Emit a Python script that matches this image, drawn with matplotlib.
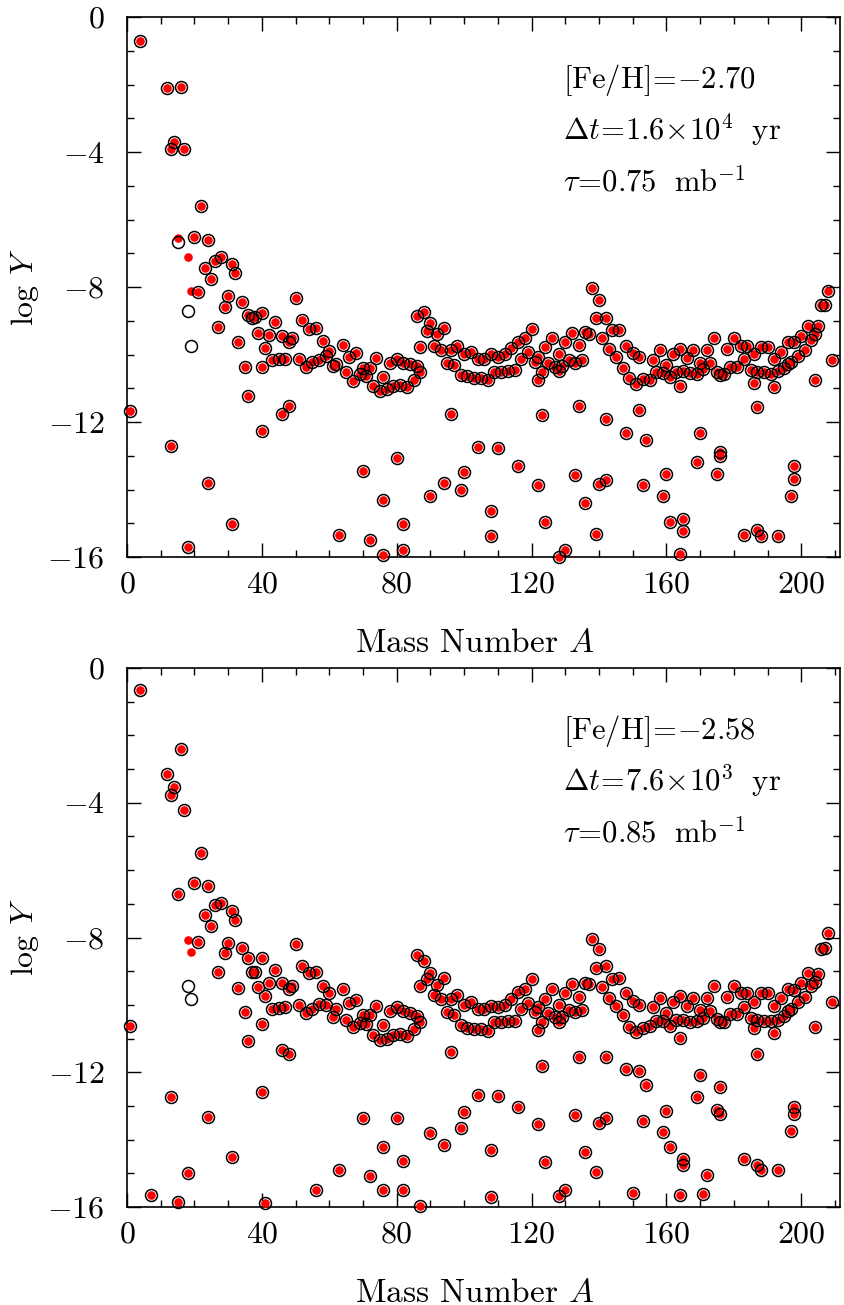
import matplotlib
matplotlib.use("Agg")
import matplotlib.pyplot as plt
from matplotlib.ticker import MultipleLocator, FixedLocator, FixedFormatter

plt.rcParams['mathtext.fontset'] = 'cm'
plt.rcParams['font.family'] = ['cmr10', 'DejaVu Serif']
plt.rcParams['axes.unicode_minus'] = False

# ---------------- upper panel: [Fe/H] = -2.70 ----------------
# isotopes where both calculations agree (open circle + red dot)
mass_top = [
    1, 4, 12, 13, 13, 14, 16, 17, 18, 20, 21, 22, 23, 24, 24, 25, 26, 27, 28, 29,
    30, 31, 31, 32, 33, 34, 35, 36, 36, 37, 38, 39, 40, 40, 40, 41, 42, 43, 44, 45,
    46, 46, 47, 48, 48, 49, 50, 51, 52, 53, 54, 55, 56, 57, 58, 59, 60, 61, 62, 63,
    64, 65, 66, 67, 68, 69, 70, 70, 71, 72, 72, 73, 74, 75, 76, 76, 76, 77, 78, 79,
    80, 80, 81, 82, 82, 82, 83, 84, 85, 86, 86, 87, 87, 88, 89, 90, 90, 91, 92, 93,
    94, 94, 95, 96, 96, 97, 98, 99, 99, 100, 100, 101, 102, 103, 104, 104, 105, 106, 107, 108,
    108, 108, 109, 110, 110, 111, 112, 113, 114, 115, 116, 116, 117, 118, 119, 120, 121, 122, 122, 122,
    123, 123, 124, 124, 125, 126, 127, 128, 128, 128, 129, 130, 130, 131, 132, 133, 133, 134, 134, 135,
    136, 136, 137, 138, 139, 139, 140, 140, 141, 142, 142, 142, 143, 144, 145, 146, 147, 148, 148, 149,
    150, 151, 152, 152, 153, 153, 154, 155, 156, 157, 158, 159, 159, 160, 160, 161, 161, 162, 163, 164,
    164, 164, 165, 165, 165, 166, 167, 168, 169, 169, 170, 170, 171, 172, 173, 174, 175, 175, 176, 176,
    176, 177, 178, 179, 180, 181, 182, 183, 183, 184, 185, 186, 186, 187, 187, 187, 188, 188, 189, 190,
    191, 192, 192, 193, 193, 194, 195, 196, 196, 197, 197, 198, 198, 198, 199, 200, 201, 202, 203, 204,
    204, 205, 206, 207, 208, 209,
]
logy_top = [
    -11.67, -0.71, -2.11, -3.90, -12.72, -3.71, -2.08, -3.90, -15.71, -6.51, -8.15, -5.60, -7.43, -6.62, -13.80, -7.77, -7.22, -9.19, -7.10, -8.58,
    -8.26, -7.32, -15.01, -7.59, -9.63, -8.45, -10.38, -8.83, -11.24, -8.92, -8.90, -9.35, -8.76, -10.38, -12.27, -9.80, -9.41, -10.16, -9.03, -10.14,
    -9.44, -11.77, -10.12, -9.63, -11.52, -9.52, -8.33, -10.14, -8.99, -10.38, -9.23, -10.22, -9.20, -10.16, -9.59, -10.04, -9.91, -10.34, -10.29, -15.34,
    -9.71, -10.51, -10.07, -10.78, -9.97, -10.58, -10.39, -13.46, -10.63, -10.39, -15.50, -10.93, -10.09, -11.08, -10.66, -14.30, -15.93, -11.03, -10.26, -10.93,
    -10.12, -13.08, -10.91, -10.24, -15.01, -15.78, -10.95, -10.29, -10.76, -8.87, -10.34, -9.79, -10.51, -8.75, -9.30, -9.07, -14.20, -9.74, -9.40, -9.87,
    -9.20, -13.82, -10.24, -9.87, -11.75, -10.32, -9.74, -10.61, -14.00, -9.99, -13.49, -10.65, -9.94, -10.71, -10.12, -12.74, -10.71, -10.12, -10.76, -9.99,
    -14.64, -15.37, -10.51, -10.06, -12.76, -10.51, -9.99, -10.49, -9.82, -10.46, -9.64, -13.31, -10.12, -9.52, -9.94, -9.23, -10.22, -10.07, -10.76, -13.87,
    -10.51, -11.80, -9.79, -14.97, -10.24, -9.50, -10.37, -9.99, -10.49, -16.00, -10.34, -9.62, -15.80, -10.16, -9.35, -10.24, -13.58, -9.72, -11.53, -10.16,
    -9.33, -14.40, -9.38, -8.04, -8.93, -15.32, -8.39, -13.85, -9.52, -8.92, -11.90, -13.73, -9.84, -9.28, -10.07, -9.27, -10.39, -9.74, -12.32, -10.71,
    -9.97, -10.88, -10.07, -11.65, -10.73, -13.87, -12.54, -10.76, -10.16, -10.51, -9.87, -10.55, -14.18, -10.30, -13.55, -10.66, -14.97, -9.99, -10.53, -9.84,
    -10.93, -15.90, -10.49, -14.86, -15.24, -10.09, -10.56, -9.87, -10.58, -13.18, -10.24, -12.32, -10.44, -9.87, -10.24, -9.52, -10.51, -13.55, -10.61, -12.90,
    -13.00, -10.58, -9.84, -10.37, -9.52, -10.37, -9.76, -10.14, -15.36, -9.74, -10.47, -9.99, -10.85, -10.51, -11.57, -15.21, -9.79, -15.37, -10.53, -9.77,
    -10.58, -10.14, -10.96, -10.49, -15.39, -9.92, -10.39, -9.62, -10.27, -10.22, -14.20, -9.64, -13.29, -13.68, -10.04, -9.45, -9.87, -9.17, -9.57, -9.40,
    -10.76, -9.17, -8.53, -8.53, -8.13, -10.16,
]
# isotopes where the two calculations differ
mass_diff_top = [15, 18, 19]
open_diff_top = [-6.68, -8.71, -9.74]
red_diff_top = [-6.55, -7.10, -8.13]

# ---------------- lower panel: [Fe/H] = -2.58 ----------------
mass_bot = [
    1, 4, 7, 12, 13, 13, 14, 15, 15, 16, 17, 18, 20, 21, 22, 23, 24, 24, 25, 26,
    27, 28, 29, 30, 31, 31, 32, 33, 34, 35, 36, 36, 37, 38, 39, 40, 40, 40, 41, 41,
    42, 43, 44, 45, 46, 46, 47, 48, 48, 49, 50, 51, 52, 53, 54, 55, 56, 56, 57, 58,
    59, 60, 61, 62, 63, 64, 65, 66, 67, 68, 69, 70, 70, 71, 72, 72, 73, 74, 75, 76,
    76, 76, 77, 78, 79, 80, 80, 81, 82, 82, 82, 83, 84, 85, 86, 86, 87, 87, 87, 88,
    89, 90, 90, 91, 92, 93, 94, 94, 95, 96, 96, 97, 98, 99, 99, 100, 100, 101, 102, 103,
    104, 104, 105, 106, 107, 108, 108, 108, 109, 110, 110, 111, 112, 113, 114, 115, 116, 116, 117, 118,
    119, 120, 121, 122, 122, 122, 123, 123, 124, 124, 125, 126, 127, 128, 128, 128, 129, 130, 130, 131,
    132, 133, 133, 134, 134, 135, 136, 136, 137, 138, 139, 139, 140, 140, 141, 142, 142, 142, 143, 144,
    145, 146, 147, 148, 148, 149, 150, 150, 151, 152, 152, 153, 153, 154, 155, 156, 157, 158, 159, 159,
    160, 160, 161, 161, 162, 163, 164, 164, 164, 165, 165, 165, 166, 167, 168, 169, 169, 170, 170, 171,
    171, 172, 172, 173, 174, 175, 175, 176, 176, 176, 177, 178, 179, 180, 181, 182, 183, 183, 184, 185,
    186, 186, 187, 187, 187, 188, 188, 189, 190, 191, 192, 192, 193, 193, 194, 195, 196, 196, 197, 197,
    198, 198, 198, 199, 200, 201, 202, 203, 204, 204, 205, 206, 207, 208, 209,
]
logy_bot = [
    -10.64, -0.65, -15.63, -3.15, -3.76, -12.73, -3.53, -6.72, -15.84, -2.40, -4.23, -15.00, -6.38, -8.12, -5.49, -7.32, -6.48, -13.33, -7.65, -7.04,
    -9.01, -6.99, -8.47, -8.15, -7.20, -14.53, -7.47, -9.51, -8.31, -10.22, -8.60, -11.07, -9.03, -9.03, -9.47, -8.60, -10.56, -12.58, -9.74, -15.88,
    -9.36, -10.11, -8.97, -10.10, -9.34, -11.33, -10.06, -9.54, -11.47, -9.43, -8.20, -10.00, -8.84, -10.24, -9.06, -10.12, -9.03, -15.50, -9.97, -9.45,
    -9.99, -9.64, -10.36, -10.12, -14.89, -9.54, -10.44, -9.94, -10.66, -9.87, -10.53, -10.31, -13.36, -10.58, -10.29, -15.07, -10.88, -10.02, -11.03, -10.61,
    -14.23, -15.49, -11.01, -10.19, -10.88, -10.07, -13.36, -10.86, -10.19, -14.62, -15.50, -10.93, -10.24, -10.71, -10.34, -8.53, -10.51, -9.45, -15.98, -8.70,
    -9.23, -9.05, -13.80, -9.72, -9.40, -9.84, -9.20, -14.15, -10.22, -9.84, -11.41, -10.29, -9.72, -10.61, -13.65, -9.99, -13.19, -10.68, -9.92, -10.71,
    -10.12, -12.69, -10.73, -10.12, -10.77, -10.02, -14.30, -15.70, -10.51, -10.06, -12.71, -10.51, -9.99, -10.49, -9.82, -10.47, -9.62, -13.04, -10.12, -9.52,
    -9.94, -9.23, -10.22, -10.07, -10.76, -13.53, -10.51, -11.80, -9.82, -14.66, -10.24, -9.52, -10.37, -9.99, -10.51, -15.68, -10.37, -9.66, -15.50, -10.14,
    -9.37, -10.22, -13.28, -9.76, -11.54, -10.16, -9.35, -14.38, -9.38, -8.03, -8.90, -14.96, -8.34, -13.50, -9.47, -8.85, -11.55, -13.36, -9.79, -9.23,
    -10.02, -9.20, -10.29, -9.66, -11.90, -10.65, -9.89, -15.58, -10.81, -9.99, -11.95, -10.68, -13.44, -12.37, -10.63, -10.07, -10.48, -9.79, -10.48, -13.77,
    -10.25, -13.14, -10.62, -14.23, -9.92, -10.44, -9.74, -10.98, -15.63, -10.44, -14.57, -14.76, -10.02, -10.50, -9.79, -10.49, -12.74, -10.16, -12.07, -10.39,
    -15.60, -9.79, -15.06, -10.17, -9.45, -10.42, -13.13, -10.51, -12.44, -13.23, -10.50, -9.77, -10.27, -9.43, -10.27, -9.66, -10.06, -14.57, -9.66, -10.39,
    -9.91, -10.70, -10.44, -11.45, -14.74, -9.66, -14.89, -10.47, -9.66, -10.49, -10.04, -10.83, -10.44, -14.91, -9.81, -10.32, -9.52, -10.17, -10.12, -13.75,
    -9.56, -13.03, -13.23, -9.92, -9.35, -9.76, -9.05, -9.45, -9.33, -10.65, -9.07, -8.34, -8.31, -7.86, -9.91,
]
mass_diff_bot = [18, 19]
open_diff_bot = [-9.44, -9.82]
red_diff_bot = [-8.06, -8.42]

labels_top = [r"$[\mathrm{Fe/H}]\!=\!{-}2.70$",
              r"$\Delta t\!=\!1.6\!\times\!10^4\ \ \mathrm{yr}$",
              r"$\tau\!=\!0.75\ \ \mathrm{mb}^{-1}$"]
labels_bot = [r"$[\mathrm{Fe/H}]\!=\!{-}2.58$",
              r"$\Delta t\!=\!7.6\!\times\!10^3\ \ \mathrm{yr}$",
              r"$\tau\!=\!0.85\ \ \mathrm{mb}^{-1}$"]

W, H = 845, 1305
fig = plt.figure(figsize=(W / 100, H / 100), dpi=100)
fig.patch.set_facecolor('white')

x0, x1 = 127, 840
panels = [
    (17, 557, mass_top, logy_top, mass_diff_top, open_diff_top, red_diff_top, labels_top),
    (668, 1207, mass_bot, logy_bot, mass_diff_bot, open_diff_bot, red_diff_bot, labels_bot),
]

ring = dict(ls='none', marker='o', ms=8.6, mfc='none', mec='black', mew=1.1, zorder=4, clip_on=False)
dot = dict(ls='none', marker='o', ms=6.2, mfc='red', mec='none', zorder=3, clip_on=False)

for top_px, bot_px, m, y, md, yo, yr, labels in panels:
    ax = fig.add_axes([x0 / W, 1 - bot_px / H, (x1 - x0) / W, (bot_px - top_px) / H])
    ax.plot(m, y, **dot)
    ax.plot(md, yr, **dot)
    ax.plot(m, y, **ring)
    ax.plot(md, yo, **ring)

    ax.set_xlim(0, 211.5)
    ax.set_ylim(-16, 0)
    ax.xaxis.set_major_locator(FixedLocator([0, 40, 80, 120, 160, 200]))
    ax.xaxis.set_major_formatter(FixedFormatter([r"$%d$" % v for v in [0, 40, 80, 120, 160, 200]]))
    ax.xaxis.set_minor_locator(MultipleLocator(10))
    ax.yaxis.set_major_locator(FixedLocator([-16, -12, -8, -4, 0]))
    ax.yaxis.set_major_formatter(FixedFormatter([r"$-16$", r"$-12$", r"$-8$", r"$-4$", r"$0$"]))
    ax.yaxis.set_minor_locator(MultipleLocator(1))
    ax.tick_params(which='both', direction='in', top=True, right=True, width=1.0, colors='black')
    ax.tick_params(which='major', length=10)
    ax.tick_params(which='minor', length=5)
    ax.tick_params(axis='x', which='major', pad=10, labelsize=23)
    ax.tick_params(axis='y', which='major', pad=16, labelsize=23)
    for s in ax.spines.values():
        s.set_linewidth(1.2)

    h = bot_px - top_px
    for txt, base_px in zip(labels, [top_px + 71, top_px + 123, top_px + 174]):
        ax.text((563 - x0) / (x1 - x0), (bot_px - base_px) / h, txt, transform=ax.transAxes,
                fontsize=22, ha='left', va='baseline', math_fontfamily='cm')

    fig.text(475 / W, 1 - (bot_px + 86) / H, r"Mass Number $A$", fontsize=24,
             ha='center', va='center', math_fontfamily='cm')
    fig.text(25 / W, 1 - (top_px + bot_px) / 2 / H, r"log $Y$", fontsize=23, rotation=90,
             ha='center', va='center', math_fontfamily='cm')

fig.savefig("out.png", dpi=100, facecolor='white')
